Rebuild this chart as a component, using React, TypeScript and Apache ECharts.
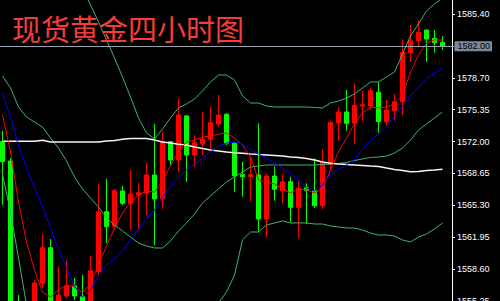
import React, { useEffect, useRef } from "react";
import * as echarts from "echarts";

// 4-hour bars (56 bars + one empty slot on the right)
const categories: string[] = Array.from({ length: 57 }, (_, i) => (i < 56 ? `Bar ${i + 1}` : ""));

const opens = [
  1571.99, 1569.96, 1555.04, 1552.73, 1553.26, 1557.11, 1560.85, 1554.1, 1555.78, 1556.83,
  1555.7, 1555.15, 1558.33, 1564.63, 1563.06, 1566.81, 1565.51, 1566.39, 1566.57, 1568.49,
  1565.97, 1571.99, 1570.06, 1574.69, 1570.59, 1571.74, 1572.24, 1573.85, 1574.86, 1571.82,
  1568.52, 1568.31, 1568.49, 1563.87, 1568.38, 1566.84, 1567.78, 1565.09, 1567.15, 1566.84,
  1565.26, 1569.61, 1573.98, 1575.11, 1573.92, 1575.74, 1575.74, 1577.18, 1574.09, 1575.24,
  1576.19, 1581.34, 1582.6, 1583.72, 1582.85, 1582.43,
];
const closes = [
  1569.88, 1553.47, 1553.05, 1554.83, 1557.14, 1560.85, 1553.78, 1555.88, 1556.83, 1555.78,
  1555.15, 1558.43, 1564.63, 1563.06, 1566.84, 1565.51, 1566.49, 1566.63, 1568.49, 1565.97,
  1571.99, 1570.06, 1574.79, 1570.59, 1571.88, 1572.27, 1573.98, 1574.79, 1571.82, 1568.38,
  1568.31, 1568.52, 1563.87, 1568.38, 1566.99, 1567.78, 1565.09, 1567.09, 1566.84, 1565.26,
  1569.82, 1574.02, 1575.11, 1573.92, 1575.81, 1575.87, 1577.34, 1574.09, 1575.32, 1576.19,
  1581.38, 1582.6, 1583.48, 1582.77, 1582.39, 1582.0,
];
const lows = [
  1565.34, 1552.73, 1552.2, 1551.99, 1552.73, 1556.65, 1553.26, 1553.47, 1555.57, 1555.36,
  1554.94, 1554.94, 1557.98, 1561.34, 1562.71, 1565.34, 1562.71, 1562.71, 1564.29, 1561.13,
  1564.92, 1569.54, 1568.83, 1567.78, 1569.36, 1570.59, 1571.19, 1573.56, 1571.64, 1566.73,
  1566.21, 1565.68, 1562.53, 1561.94, 1565.79, 1565.51, 1563.58, 1561.84, 1563.34, 1564.99,
  1564.88, 1569.01, 1572.09, 1573.14, 1571.74, 1574.19, 1575.32, 1572.93, 1573.74, 1574.27,
  1574.79, 1580.39, 1581.9, 1580.39, 1581.34, 1581.62,
];
const highs = [
  1573.11, 1570.27, 1555.88, 1555.15, 1557.46, 1562.29, 1561.76, 1558.85, 1559.45, 1557.67,
  1557.98, 1559.98, 1567.54, 1568.07, 1567.02, 1567.33, 1569.01, 1567.68, 1569.75, 1573.85,
  1573.04, 1572.06, 1576.55, 1574.79, 1572.69, 1575.14, 1575.66, 1576.89, 1575.0, 1571.95,
  1569.88, 1570.41, 1573.92, 1568.59, 1569.36, 1568.56, 1568.31, 1567.78, 1567.62, 1570.24,
  1571.19, 1574.19, 1575.6, 1577.42, 1578.12, 1577.34, 1577.6, 1578.29, 1576.37, 1577.0,
  1582.74, 1584.25, 1584.7, 1583.77, 1583.72, 1583.09,
];

// indicator lines
const maRed = [
  1574.79, 1570.9, 1565.65, 1561.45, 1558.51, 1556.2, 1555.67, 1556.41, 1556.93, 1556.72,
  1556.09, 1557.14, 1559.03, 1561.03, 1562.92, 1564.5, 1565.65, 1566.39, 1566.81, 1566.7,
  1567.86, 1569.43, 1571.01, 1571.95, 1572.16, 1572.48, 1572.58, 1572.79, 1572.9, 1572.37,
  1571.64, 1570.38, 1567.96, 1567.75, 1567.54, 1567.02, 1566.6, 1567.02, 1566.91, 1566.6,
  1567.02, 1569.01, 1570.9, 1572.37, 1573.85, 1575.0, 1575.63, 1575.53, 1575.63, 1575.95,
  1576.79, 1579.31, 1581.09, 1582.35, 1582.67, 1582.67,
];
const maBlue = [
  1577.0, 1574.58, 1571.53, 1569.22, 1567.12, 1565.13, 1562.92, 1560.71, 1558.72, 1556.83,
  1555.67, 1556.41, 1557.88, 1559.03, 1559.66, 1560.5, 1561.66, 1562.82, 1563.87, 1564.81,
  1566.18, 1567.23, 1568.28, 1569.01, 1569.64, 1570.27, 1570.9, 1571.53, 1571.85, 1571.95,
  1571.74, 1571.19, 1570.69, 1570.27, 1569.75, 1569.22, 1568.59, 1567.96, 1567.12, 1566.81,
  1567.44, 1568.59, 1569.12, 1569.54, 1570.17, 1571.19, 1572.16, 1572.79, 1573.64, 1574.69,
  1575.74, 1576.79, 1577.73, 1578.57, 1579.2, 1579.73,
];
const maWhite = [
  1572.03, 1572.03, 1572.03, 1572.03, 1572.03, 1572.13, 1571.95, 1571.95, 1571.95, 1571.95,
  1571.95, 1571.95, 1571.95, 1572.06, 1572.11, 1572.24, 1572.32, 1572.32, 1572.32, 1572.16,
  1571.95, 1571.85, 1571.71, 1571.64, 1571.43, 1571.27, 1571.11, 1571.01, 1570.9, 1570.83,
  1570.77, 1570.69, 1570.64, 1570.59, 1570.54, 1570.48, 1570.38, 1570.33, 1570.22, 1570.06,
  1569.85, 1569.72, 1569.64, 1569.59, 1569.54, 1569.49, 1569.43, 1569.38, 1569.22, 1569.07,
  1568.96, 1568.83, 1568.86, 1568.96, 1569.01, 1569.09,
];
const bbUpper = [
  1589.6, 1590.23, 1590.86, 1591.28, 1591.49, 1591.49, 1591.28, 1590.86, 1590.23, 1589.5,
  1588.13, 1586.35, 1584.56, 1582.67, 1580.78, 1578.78, 1576.68, 1574.48, 1572.9, 1572.27,
  1573.32, 1574.48, 1575.53, 1575.95, 1576.47, 1577.31, 1578.26, 1578.99, 1578.99, 1578.47,
  1576.79, 1576.05, 1576.05, 1575.74, 1575.63, 1575.63, 1575.63, 1575.63, 1575.63, 1575.58,
  1575.53, 1576.05, 1576.26, 1576.58, 1577.0, 1577.63, 1578.26, 1578.26, 1578.78, 1579.31,
  1581.2, 1583.09, 1584.35, 1585.72, 1586.45, 1587.08,
];
const bbMiddle = [
  1578.89, 1577.63, 1575.63, 1574.58, 1574.05, 1573.53, 1572.37, 1571.32, 1569.96, 1568.28,
  1567.02, 1566.07, 1565.13, 1563.97, 1563.24, 1562.6, 1561.97, 1561.34, 1561.03, 1560.82,
  1560.82, 1561.55, 1562.6, 1563.45, 1564.39, 1565.55, 1566.28, 1567.02, 1567.75, 1568.28,
  1568.8, 1569.33, 1569.43, 1569.54, 1569.54, 1569.54, 1569.54, 1569.54, 1569.54, 1569.54,
  1569.59, 1569.64, 1569.7, 1569.8, 1570.01, 1570.17, 1570.33, 1570.38, 1570.48, 1570.8,
  1571.32, 1572.16, 1573.21, 1573.85, 1574.48, 1575.11,
];
const bbLower = [
  1568.59, 1564.6, 1559.77, 1554.83, 1551.15, 1550.1, 1549.05, 1548.0, 1547.16, 1546.74,
  1546.53, 1546.22, 1545.9, 1545.27, 1545.06, 1545.9, 1546.64, 1547.79, 1548.95, 1549.37,
  1548.11, 1548.0, 1548.84, 1550.31, 1551.68, 1553.15, 1554.31, 1555.04, 1556.2, 1557.98,
  1561.66, 1562.5, 1562.5, 1563.24, 1563.45, 1563.66, 1563.45, 1563.45, 1563.45, 1563.34,
  1563.34, 1563.13, 1563.03, 1562.92, 1562.92, 1562.71, 1562.39, 1562.18, 1562.18, 1562.08,
  1561.66, 1561.45, 1561.97, 1562.29, 1562.82, 1563.45,
];

// price-axis tick labels (1582.05 is hidden under the current-price box)
const yTicks = [1555.25, 1558.6, 1561.95, 1565.3, 1568.65, 1572.0, 1575.35, 1578.7, 1585.4];
const currentPrice = 1582.0;
const yMin = 1555.25;
const yMax = 1586.87;
const titleText = "现货黄金四小时图";

export default function App() {
  const ref = useRef<HTMLDivElement>(null);

  useEffect(() => {
    if (!ref.current) return;
    const chart = echarts.init(ref.current, undefined, { renderer: "svg" });
    const kData = opens.map((o, i) => [o, closes[i], lows[i], highs[i]]);
    const thin = (name: string, data: number[], color: string, width = 1) => ({
      name,
      type: "line",
      data,
      symbol: "none",
      smooth: false,
      lineStyle: { color, width },
      silent: true,
      z: 3,
    });
    chart.setOption({
      animation: false,
      backgroundColor: "#000000",
      title: {
        text: titleText,
        left: 7,
        top: 8,
        textStyle: {
          color: "#f43c3c",
          fontSize: 29,
          fontWeight: "normal",
          fontFamily: "Noto Sans CJK SC",
        },
      },
      grid: {
        left: -1.5,
        right: 45.5,
        top: 0,
        bottom: 0,
        containLabel: false,
        outerBoundsMode: "none",
      },
      xAxis: {
        type: "category",
        data: categories,
        boundaryGap: true,
        show: false,
      },
      yAxis: {
        type: "value",
        position: "right",
        offset: -2.5,
        min: yMin,
        max: yMax,
        splitLine: { show: false },
        axisLine: { show: true, lineStyle: { color: "#ffffff", width: 1 } },
        axisTick: {
          show: true,
          length: 3,
          customValues: yTicks,
          lineStyle: { color: "#ffffff" },
        },
        axisLabel: {
          color: "#ffffff",
          fontSize: 9,
          fontFamily: "Liberation Sans, Arial, sans-serif",
          margin: 5,
          customValues: yTicks,
          showMinLabel: true,
          showMaxLabel: true,
          formatter: (v: number) => v.toFixed(2),
        },
      },
      series: [
        {
          name: "XAUUSD H4",
          type: "candlestick",
          data: kData,
          barWidth: 4,
          z: 2,
          itemStyle: {
            color: "#ff0000",
            color0: "#00ff00",
            borderColor: "#ff0000",
            borderColor0: "#00ff00",
            borderWidth: 1,
          },
          markLine: {
            silent: true,
            symbol: ["none", "none"],
            lineStyle: { color: "#9aa3ad", width: 1, type: "solid" },
            label: {
              show: true,
              position: "end",
              distance: 0,
              formatter: currentPrice.toFixed(2),
              backgroundColor: "#7b8a9a",
              color: "#000000",
              fontSize: 9,
              fontFamily: "Liberation Sans, Arial, sans-serif",
              lineHeight: 10,
              padding: [0, 2, 0, 3],
            },
            data: [{ yAxis: currentPrice }],
          },
        },
        thin("BB upper", bbUpper, "#3cb371"),
        thin("BB middle", bbMiddle, "#3cb371"),
        thin("BB lower", bbLower, "#3cb371"),
        thin("MA long", maWhite, "#fff0f0", 1.5),
        thin("MA fast", maRed, "#ff0000"),
        thin("MA slow", maBlue, "#0000ff"),
      ],
    });
    return () => chart.dispose();
  }, []);

  return (
    <div
      ref={ref}
      style={{ position: "fixed", left: 0, top: 0, width: 500, height: 301, background: "#000" }}
    />
  );
}
